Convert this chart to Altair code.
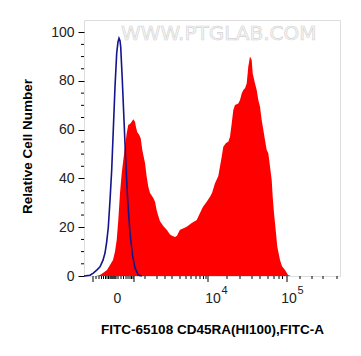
import altair as alt
import pandas as pd

# ---- data (x in display channels 0-256, y = relative cell number) ----
red_x = [12, 16, 20, 23, 26, 29, 31, 32.7, 34.3, 36, 37.7, 39.3, 41, 42.7, 44.3, 46, 47.7, 49.3,
         51, 52, 53.3, 55.3, 56.7, 58.3, 61, 62.7, 64.3, 66, 67.7, 69.3, 71, 72.7, 74, 76, 79.3,
         82.7, 86, 88, 91, 93, 94.3, 96, 99, 102.7, 107.7, 112.7, 116, 119, 122.7, 126, 128, 131,
         134.3, 137.7, 139.3, 142, 144.3, 146, 147.7, 149.3, 151, 154.3, 156, 157.7, 159.3, 161,
         162.7, 164.3, 166, 167.7, 168.7, 171, 172.7, 174.3, 176, 177.7, 181, 182.7, 184.3, 186,
         187.7, 188.7, 190, 191.7, 193.3, 196, 198, 201, 204, 207]
red_y = [0, 0.4, 1.5, 2.5, 4.5, 6.6, 10, 14.8, 23, 34, 42, 47.6, 53, 58.6, 62, 62.3, 63.3, 64.3,
         63.3, 61, 59, 57.8, 56.5, 51.7, 46.3, 40.7, 36.6, 34, 33, 32, 30.5, 27, 25, 22.5, 20.5,
         19, 17, 16.5, 16, 16.5, 17.6, 19, 19.5, 20.2, 21.7, 23, 25.8, 28.4, 30.5, 32.5, 34, 38,
         41, 48.9, 53, 54.5, 55.1, 57.1, 62.6, 68.1, 70.1, 70.8, 72.2, 74.9, 76.3, 77,
         79, 85.9, 90, 88.6, 83.1, 79, 76.3, 72.2, 69.4, 64, 55.8, 51.7, 50.3, 44.9,
         39.4, 32.5, 25.8, 18.9, 12, 6.6, 4, 2.5, 0.4, 0]

blue_x = [0, 6, 9.3, 13, 16, 19, 21, 22.7, 24.3, 26, 27.7, 29.3, 31, 32.7, 34, 35, 36, 36.7,
          38.3, 40, 41.7, 43.7, 46, 48.7, 51, 54.3, 58]
blue_y = [0, 0.3, 1.2, 2.5, 3.8, 6.5, 9.4, 14, 20, 31, 43.5, 60, 77.6, 91.4, 96, 97.5, 96.5, 94,
          80.4, 64, 47.6, 31, 17.6, 8, 3.3, 0.4, 0]

y_major = [0, 20, 40, 60, 80, 100]
y_minor = [5, 10, 15, 25, 30, 35, 45, 50, 55, 65, 70, 75, 85, 90, 95]

x_major_ticks = [9, 50, 124, 203]
x_minor_ticks = [12, 15, 17.5, 19.5, 21.5, 23, 24.5, 26, 27, 28, 29, 30, 31, 32,
                 34, 37, 39.5, 42, 44, 46, 47.5, 49,
                 61, 73, 81, 88, 96, 102, 107, 112, 116, 119.5, 122,
                 143, 156, 168, 176, 184, 190, 195, 198.5,
                 216, 228, 239, 253]
x_label_pos = [33.5, 129, 205]
x_label_base = ["0", "10", "10"]
x_label_exp = ["", "4", "5"]

FONT = "Liberation Sans"
W, H = 256, 256

red_df = pd.DataFrame({"x": red_x, "y": red_y})
blue_df = pd.DataFrame({"x": blue_x, "y": blue_y})

xscale = alt.Scale(domain=[0, 256], nice=False, zero=False)
yscale = alt.Scale(domain=[0, 105], nice=False, zero=False)

xaxis = alt.Axis(ticks=False, labels=False, domain=False, grid=False,
                 title="FITC-65108 CD45RA(HI100),FITC-A", titleFont=FONT, titleFontSize=13.5,
                 titleFontWeight="bold", titleColor="black", titleY=57, titleBaseline="alphabetic")
yaxis = alt.Axis(values=y_major, tickSize=6, tickColor="black", labelFont=FONT, labelFontSize=14,
                 labelColor="#222222", labelPadding=4, domain=False, grid=False,
                 title="Relative Cell Number", titleFont=FONT, titleFontSize=13.5,
                 titleFontWeight="bold", titleColor="black", titleAngle=-90, titleX=-57,
                 titleY=126, titleAlign="center", titleBaseline="middle")

red = alt.Chart(red_df).mark_area(color="#ff0000", interpolate="linear").encode(
    x=alt.X("x:Q", scale=xscale, axis=xaxis),
    y=alt.Y("y:Q", scale=yscale, axis=yaxis),
)
blue = alt.Chart(blue_df).mark_line(color="#14148c", strokeWidth=1.6).encode(
    x=alt.X("x:Q", scale=xscale),
    y=alt.Y("y:Q", scale=yscale),
)

ymin = alt.Chart(pd.DataFrame({"v": y_minor})).mark_rule(color="black", strokeWidth=1).encode(
    y=alt.Y("v:Q", scale=yscale), x=alt.value(-3), x2=alt.value(0))

xmaj = alt.Chart(pd.DataFrame({"v": x_major_ticks})).mark_rule(color="black", strokeWidth=1).encode(
    x=alt.X("v:Q", scale=xscale), y=alt.value(H), y2=alt.value(H + 6))
xmin = alt.Chart(pd.DataFrame({"v": x_minor_ticks})).mark_rule(color="black", strokeWidth=1).encode(
    x=alt.X("v:Q", scale=xscale), y=alt.value(H), y2=alt.value(H + 3))

lab_df = pd.DataFrame({"x": x_label_pos, "base": x_label_base, "exp": x_label_exp})
xlab = alt.Chart(lab_df).mark_text(font=FONT, fontSize=14, color="#222222", align="center",
                                   baseline="alphabetic").encode(
    x=alt.X("x:Q", scale=xscale), y=alt.value(H + 27), text="base:N")
xexp = alt.Chart(lab_df).mark_text(font=FONT, fontSize=11, color="#222222", align="center",
                                   baseline="alphabetic", dx=11.5).encode(
    x=alt.X("x:Q", scale=xscale), y=alt.value(H + 18), text="exp:N")

wm = alt.Chart(pd.DataFrame({"t": ["WWW.PTGLAB.COM"]})).mark_text(
    font="DejaVu Sans", fontSize=20, align="left", baseline="middle",
    fill="#f6f6f6", stroke="#d2d2d2", strokeWidth=0.6).encode(
    x=alt.value(37), y=alt.value(14), text="t:N")

chart = alt.layer(wm, red, blue, ymin, xmaj, xmin, xlab, xexp).properties(
    width=W, height=H, autosize=alt.AutoSizeParams(type="none"),
    padding={"left": 76, "top": 12, "right": 10, "bottom": 64},
).configure_view(stroke="black", strokeWidth=1).configure(background="white")

chart.save("out.html", embed_options={"renderer": "svg", "actions": False})
